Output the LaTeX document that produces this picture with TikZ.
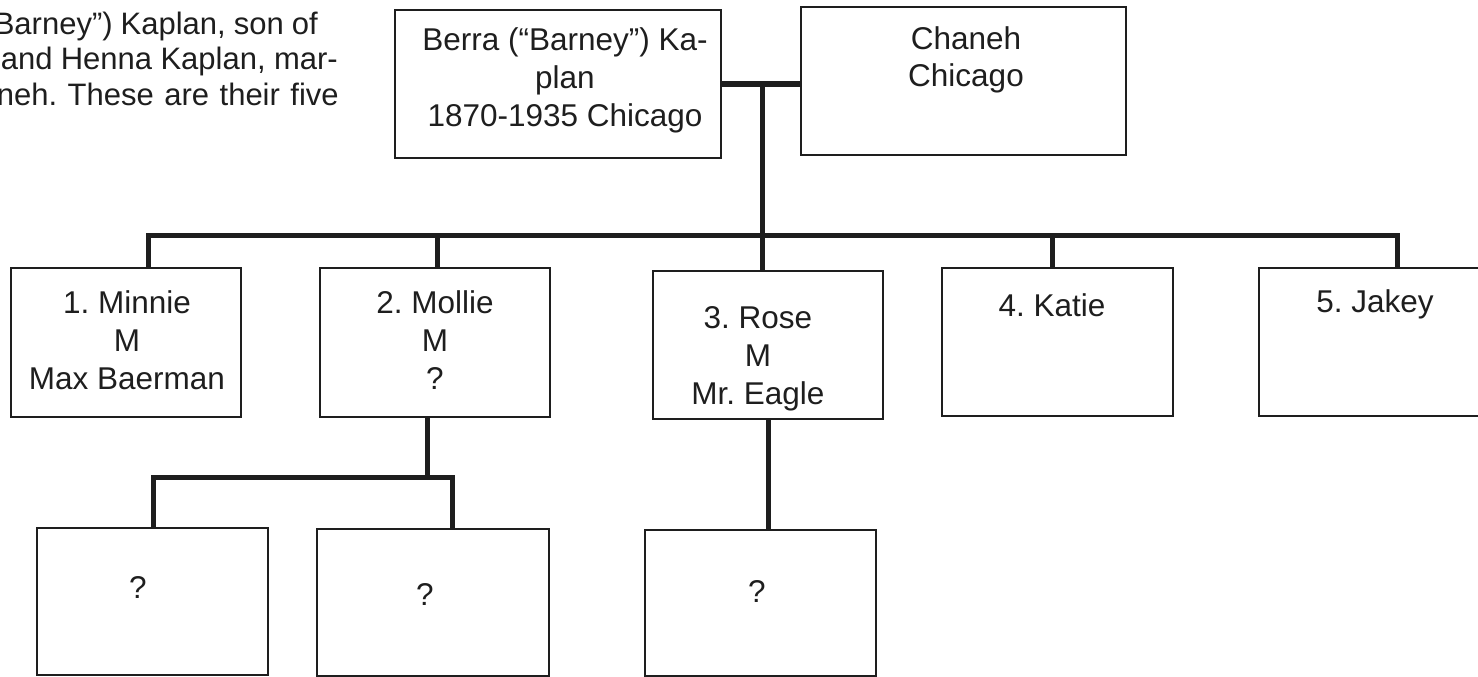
\documentclass[tikz,border=0pt]{standalone}
\usepackage{fontspec}
\setmainfont{Liberation Sans}
\frenchspacing
\definecolor{ink}{HTML}{1E1E1E}
\tikzset{
  box/.style={draw=ink, line width=2.4pt, inner sep=0pt, fill=none},
  bar/.style={draw=ink, line width=5pt, line join=miter},
  lbl/.style={text=ink, inner sep=0pt, anchor=base, align=center, font=\fontsize{31.5}{38}\selectfont},
  para/.style={text=ink, inner sep=0pt, anchor=base east, font=\fontsize{31}{35}\selectfont},
}
\begin{document}
\begin{tikzpicture}[x=1pt,y=-1pt]
\useasboundingbox (0,0) rectangle (1478,677);
% boxes
\node[box, minimum width=326pt, minimum height=148pt] (berra)  at (558,84) {};
\node[box, minimum width=325pt, minimum height=148pt] (chaneh) at (963.5,81) {};
\node[box, minimum width=230pt, minimum height=149pt] (minnie) at (126,342.5) {};
\node[box, minimum width=230pt, minimum height=149pt] (mollie) at (435,342.5) {};
\node[box, minimum width=230pt, minimum height=148pt] (rose)   at (768,345) {};
\node[box, minimum width=231pt, minimum height=148pt] (katie)  at (1057.5,342) {};
\node[box, minimum width=230pt, minimum height=148pt] (jakey)  at (1374,342) {};
\node[box, minimum width=231pt, minimum height=147pt] (qa)     at (152.5,601.5) {};
\node[box, minimum width=232pt, minimum height=147pt] (qb)     at (433,602.5) {};
\node[box, minimum width=231pt, minimum height=146pt] (qc)     at (760.5,603) {};
% paragraph fragment (justified lines, cut at the left edge)
\node[para] (p1) at (318,35)  {\makebox[324pt][s]{Barney”) Kaplan, son of}};
\node[para] (p2) at (338,70)  {\makebox[337pt][s]{and Henna Kaplan, mar-}};
\node[para] (p3) at (339,105) {\makebox[342pt][s]{neh. These are their five}};
% box texts (anchor = baseline of the last line)
\node[lbl] (tberra)  at (565,126)  {Berra (“Barney”) Ka-\\plan\\1870-1935 Chicago};
\node[lbl] (tchaneh) at (966,87)   {Chaneh\\Chicago};
\node[lbl] (tminnie) at (127,389)  {1. Minnie\\M\\Max Baerman};
\node[lbl] (tmollie) at (435,389)  {2. Mollie\\M\\?};
\node[lbl] (trose)   at (758,404)  {3. Rose\\M\\Mr. Eagle};
\node[lbl] (tkatie)  at (1052,316) {4. Katie};
\node[lbl] (tjakey)  at (1375,312) {5. Jakey};
\node[lbl] (tqa)     at (138,598)  {?};
\node[lbl] (tqb)     at (425,605)  {?};
\node[lbl] (tqc)     at (757,602)  {?};
% connectors
\coordinate (mar) at (762,84);
\draw[bar] (berra.east |- mar) -- (chaneh.west |- mar);
\draw[bar] (mar) -- (mar |- rose.north);
\draw[bar] (148,0 |- minnie.north) -- (148,235) -- (1397,235) -- (1397,0 |- jakey.north);
\draw[bar] (437,235) -- (437,0 |- mollie.north);
\draw[bar] (1052,235) -- (1052,0 |- katie.north);
\draw[bar] (427,0 |- mollie.south) -- (427,477);
\draw[bar] (153,0 |- qa.north) -- (153,477) -- (452,477) -- (452,0 |- qb.north);
\draw[bar] (768,0 |- rose.south) -- (768,0 |- qc.north);
\end{tikzpicture}
\end{document}
